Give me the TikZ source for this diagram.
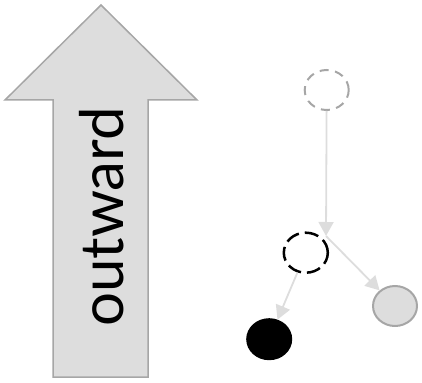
\documentclass[tikz,border=0pt]{standalone}
\usepackage{fontspec}
\setmainfont{Lato}
\usetikzlibrary{shapes.geometric,arrows.meta}
\definecolor{lgray}{HTML}{DDDDDD}
\definecolor{mgray}{HTML}{A6A6A6}
\begin{document}
\begin{tikzpicture}[x=1pt,y=-1pt,
  blob/.style={ellipse,minimum width=44pt,minimum height=40pt,inner sep=0pt,line width=2pt},
  conn/.style={draw=lgray,line width=1.8pt,-{Triangle[length=14pt,width=15pt,fill=lgray]}}]
\useasboundingbox (0,0) rectangle (422,382);
% big arrow
\draw[fill=lgray,draw=mgray,line width=1.5pt]
  (101,5) -- (197,100) -- (148,100) -- (148,377) -- (53,377) -- (53,100) -- (5,100) -- cycle;
\node[rotate=90,font=\fontsize{60}{64}\selectfont,inner sep=0pt] (lbl) at (102,217) {outward};
% nodes
\node[blob,draw=mgray,dash pattern=on 9pt off 6.5pt] (top) at (326.7,90) {};
\node[blob,draw=black,line width=2.5pt,dash pattern=on 14pt off 6pt] (mid) at (305.8,252.7) {};
\node[blob,draw=mgray,fill=lgray] (gr) at (395,306) {};
\node[blob,draw=black,fill=black] (bk) at (269.2,339.2) {};
\coordinate (j) at (326,236);
\draw[conn] (top) -- (j);
\draw[conn] (j) -- (gr);
\draw[conn] (mid) -- (bk);
\end{tikzpicture}
\end{document}
